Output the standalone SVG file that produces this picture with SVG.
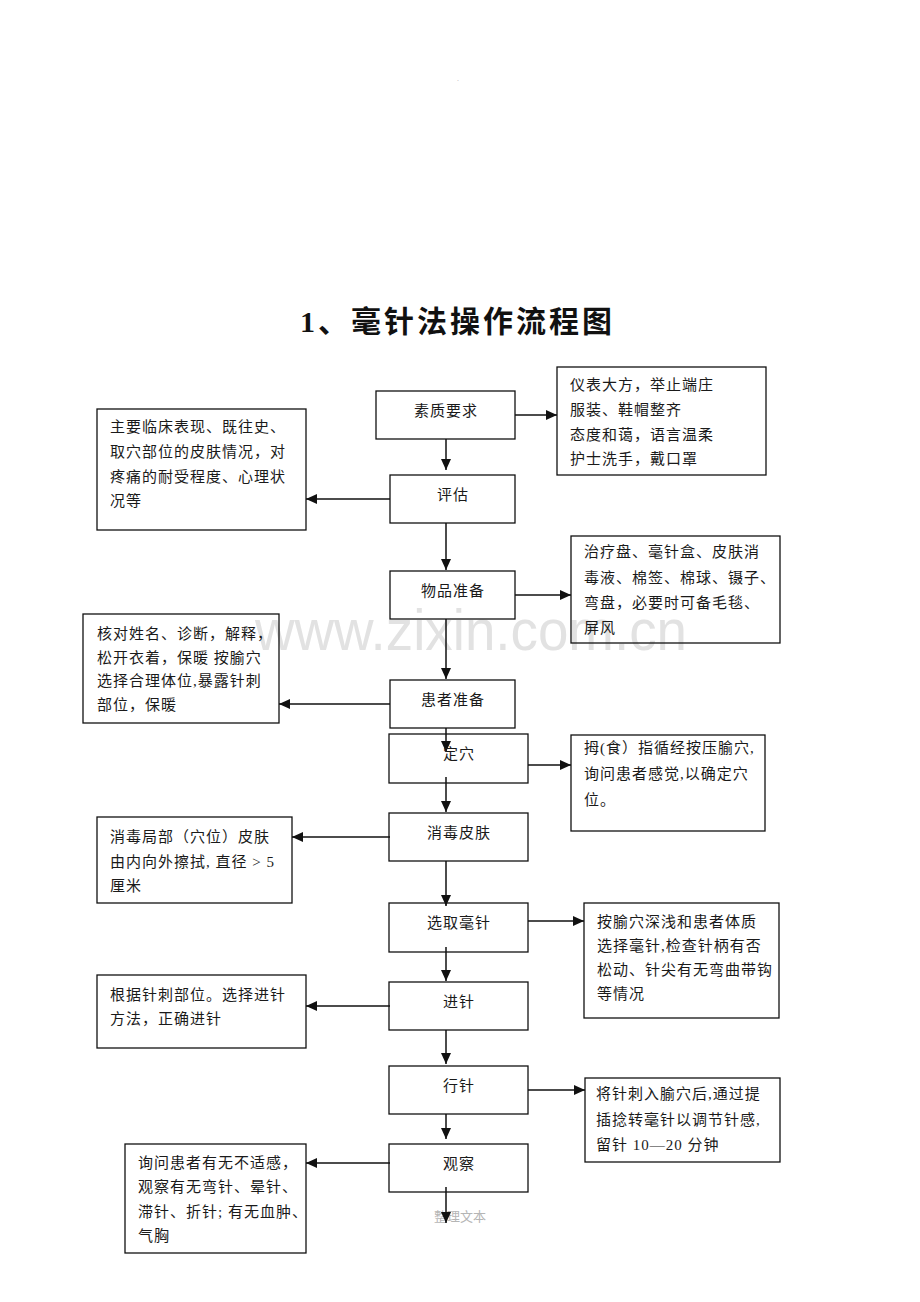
<svg xmlns="http://www.w3.org/2000/svg" width="920" height="1302" viewBox="0 0 920 1302">
<style>
.bx{fill:none;stroke:#111;stroke-width:1.3}
.t{font-family:"Liberation Serif","Noto Sans CJK SC",serif;font-size:15px;fill:#1a1a1a;letter-spacing:1px}
.c{text-anchor:middle}
.ln{stroke:#111;stroke-width:1.5;fill:none;marker-end:url(#ah)}
</style>
<defs>
<marker id="ah" markerUnits="userSpaceOnUse" markerWidth="12" markerHeight="10" refX="11" refY="5" orient="auto">
<path d="M0,0 L11,5 L0,10 Z" fill="#111"/>
</marker>
</defs>
<rect width="920" height="1302" fill="#fff"/>
<text x="458" y="81" font-family="Liberation Sans,sans-serif" font-size="7" fill="#aaa" text-anchor="middle">.</text>
<text x="300" y="332" font-family="'Liberation Serif','Noto Sans CJK SC',serif" font-size="30" font-weight="bold" letter-spacing="3" fill="#111">1、毫针法操作流程图</text>
<text id="watermark" x="255" y="650" font-family="'Liberation Sans',Arial,sans-serif" font-size="58" fill="#e2e2e2" textLength="432" lengthAdjust="spacingAndGlyphs">www.zixin.com.cn</text>
<text x="460" y="1221" font-family="'Liberation Serif','Noto Sans CJK SC',serif" font-size="13" fill="#b5b5b5" text-anchor="middle">整理文本</text>

<g id="connectors">
<line class="ln" x1="515" y1="415" x2="557" y2="415"/>
<line class="ln" x1="446" y1="439" x2="446" y2="470"/>
<line class="ln" x1="390" y1="499" x2="306" y2="499"/>
<line class="ln" x1="446" y1="523" x2="446" y2="570"/>
<line class="ln" x1="515" y1="595" x2="571" y2="595"/>
<line class="ln" x1="446" y1="619" x2="446" y2="679"/>
<line class="ln" x1="390" y1="704" x2="279" y2="704"/>
<line class="ln" x1="446" y1="728" x2="446" y2="752"/>
<line class="ln" x1="528" y1="765" x2="571" y2="765"/>
<line class="ln" x1="446" y1="777" x2="446" y2="812"/>
<line class="ln" x1="390" y1="837" x2="292" y2="837"/>
<line class="ln" x1="446" y1="861" x2="446" y2="906"/>
<line class="ln" x1="528" y1="921" x2="584" y2="921"/>
<line class="ln" x1="446" y1="947" x2="446" y2="981"/>
<line class="ln" x1="390" y1="1006" x2="306" y2="1006"/>
<line class="ln" x1="446" y1="1030" x2="446" y2="1064"/>
<line class="ln" x1="528" y1="1090" x2="585" y2="1090"/>
<line class="ln" x1="446" y1="1114" x2="446" y2="1139"/>
<line class="ln" x1="390" y1="1163" x2="306" y2="1163"/>
<line class="ln" x1="446" y1="1187" x2="446" y2="1223"/>
</g>

<g id="n-suzhi"><rect class="bx" x="376" y="391" width="139" height="48"/><text class="t c" x="446" y="416">素质要求</text></g>
<g id="n-pinggu"><rect class="bx" x="390" y="475" width="125" height="48"/><text class="t c" x="453" y="500">评估</text></g>
<g id="n-wupin"><rect class="bx" x="390" y="571" width="125" height="48"/><text class="t c" x="453" y="596">物品准备</text></g>
<g id="n-huanzhe"><rect class="bx" x="390" y="680" width="125" height="48"/><text class="t c" x="453" y="705">患者准备</text></g>
<g id="n-dingxue"><rect class="bx" x="389" y="734" width="139" height="49"/><text class="t c" x="459" y="759">定穴</text></g>
<g id="n-xiaodu"><rect class="bx" x="389" y="813" width="139" height="48"/><text class="t c" x="459" y="838">消毒皮肤</text></g>
<g id="n-xuanqu"><rect class="bx" x="389" y="903" width="139" height="49"/><text class="t c" x="459" y="928">选取毫针</text></g>
<g id="n-jinzhen"><rect class="bx" x="389" y="982" width="139" height="48"/><text class="t c" x="459" y="1007">进针</text></g>
<g id="n-xingzhen"><rect class="bx" x="389" y="1066" width="139" height="48"/><text class="t c" x="459" y="1091">行针</text></g>
<g id="n-guancha"><rect class="bx" x="389" y="1144" width="139" height="48"/><text class="t c" x="459" y="1169">观察</text></g>

<g id="r-yibiao"><rect class="bx" x="557" y="367" width="209" height="108"/>
<text class="t" x="570" y="390">仪表大方，举止端庄</text>
<text class="t" x="570" y="415">服装、鞋帽整齐</text>
<text class="t" x="570" y="440">态度和蔼，语言温柔</text>
<text class="t" x="570" y="464">护士洗手，戴口罩</text></g>

<g id="l-pinggu"><rect class="bx" x="97" y="409" width="209" height="121"/>
<text class="t" x="110" y="432">主要临床表现、既往史、</text>
<text class="t" x="110" y="457">取穴部位的皮肤情况，对</text>
<text class="t" x="110" y="482">疼痛的耐受程度、心理状</text>
<text class="t" x="110" y="506">况等</text></g>

<g id="r-wupin"><rect class="bx" x="571" y="536" width="209" height="107"/>
<text class="t" x="584" y="557">治疗盘、毫针盒、皮肤消</text>
<text class="t" x="584" y="583">毒液、棉签、棉球、镊子、</text>
<text class="t" x="584" y="608">弯盘，必要时可备毛毯、</text>
<text class="t" x="584" y="633">屏风</text></g>

<g id="l-huanzhe"><rect class="bx" x="83" y="614" width="196" height="109"/>
<text class="t" x="97" y="639">核对姓名、诊断，解释，</text>
<text class="t" x="97" y="663">松开衣着，保暖 按腧穴</text>
<text class="t" x="97" y="686">选择合理体位,暴露针刺</text>
<text class="t" x="97" y="710">部位，保暖</text></g>

<g id="r-dingxue"><rect class="bx" x="571" y="735" width="194" height="96"/>
<text class="t" x="584" y="753">拇(食）指循经按压腧穴,</text>
<text class="t" x="584" y="779">询问患者感觉,以确定穴</text>
<text class="t" x="584" y="805">位。</text></g>

<g id="l-xiaodu"><rect class="bx" x="97" y="817" width="195" height="86"/>
<text class="t" x="110" y="842">消毒局部（穴位）皮肤</text>
<text class="t" x="110" y="867">由内向外擦拭, 直径 &gt; 5</text>
<text class="t" x="110" y="891">厘米</text></g>

<g id="r-xuanqu"><rect class="bx" x="584" y="903" width="195" height="115"/>
<text class="t" x="597" y="927">按腧穴深浅和患者体质</text>
<text class="t" x="597" y="951">选择毫针,检查针柄有否</text>
<text class="t" x="597" y="975">松动、针尖有无弯曲带钩</text>
<text class="t" x="597" y="999">等情况</text></g>

<g id="l-jinzhen"><rect class="bx" x="97" y="975" width="209" height="73"/>
<text class="t" x="110" y="1000">根据针刺部位。选择进针</text>
<text class="t" x="110" y="1024">方法，正确进针</text></g>

<g id="r-xingzhen"><rect class="bx" x="585" y="1078" width="195" height="84"/>
<text class="t" x="596" y="1099">将针刺入腧穴后,通过提</text>
<text class="t" x="596" y="1125">插捻转毫针以调节针感,</text>
<text class="t" x="596" y="1150">留针 10—20 分钟</text></g>

<g id="l-guancha"><rect class="bx" x="125" y="1144" width="181" height="109"/>
<text class="t" x="138" y="1168">询问患者有无不适感，</text>
<text class="t" x="138" y="1192">观察有无弯针、晕针、</text>
<text class="t" x="138" y="1217">滞针、折针; 有无血肿、</text>
<text class="t" x="138" y="1241">气胸</text></g>
</svg>
